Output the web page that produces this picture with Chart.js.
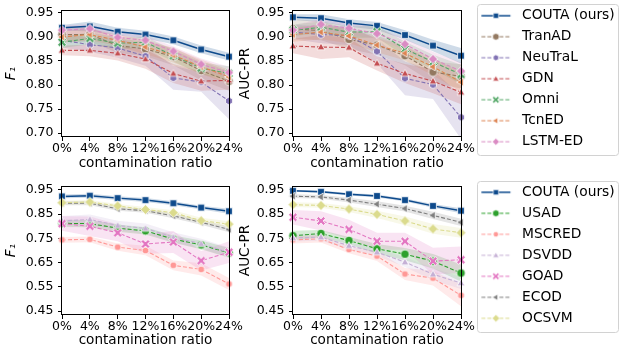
<!DOCTYPE html>
<html><head><meta charset="utf-8">
<script src="https://cdn.jsdelivr.net/npm/chart.js@4.4.0/dist/chart.umd.min.js"></script>
<style>
html,body{margin:0;padding:0;background:#fff;}
#wrap{position:relative;width:621px;height:351px;overflow:hidden;background:#fff;}
canvas{position:absolute;}
</style></head><body>
<div id="wrap">
<canvas id="cTL" width="250" height="175" style="left:0;top:0"></canvas>
<canvas id="cTR" width="389" height="175" style="left:232px;top:0"></canvas>
<canvas id="cBL" width="250" height="176" style="left:0;top:175px"></canvas>
<canvas id="cBR" width="389" height="176" style="left:232px;top:175px"></canvas>
</div>
<script>
// ---------------- DATA ----------------
const xLabels = ['0%','4%','8%','12%','16%','20%','24%'];
const topMethods = ['COUTA (ours)','TranAD','NeuTraL','GDN','Omni','TcnED','LSTM-ED'];
const botMethods = ['COUTA (ours)','USAD','MSCRED','DSVDD','GOAD','ECOD','OCSVM'];
const topYTicks = [0.70,0.75,0.80,0.85,0.90,0.95];
const botYTicks = [0.45,0.55,0.65,0.75,0.85,0.95];

// top-left: F1
const f1Top_COUTA   = [0.919,0.922,0.911,0.905,0.893,0.874,0.859];
const f1Top_TranAD  = [0.905,0.905,0.882,0.875,0.859,0.830,0.808];
const f1Top_NeuTraL = [0.893,0.884,0.877,0.860,0.815,0.806,0.767];
const f1Top_GDN     = [0.872,0.872,0.866,0.854,0.824,0.808,0.810];
const f1Top_Omni    = [0.889,0.897,0.887,0.889,0.861,0.835,0.824];
const f1Top_TcnED   = [0.900,0.905,0.893,0.879,0.862,0.838,0.817];
const f1Top_LSTMED  = [0.914,0.917,0.899,0.893,0.870,0.843,0.826];
const f1TopSd_COUTA   = [0.006,0.010,0.008,0.008,0.008,0.008,0.008];
const f1TopSd_TranAD  = [0.015,0.015,0.015,0.015,0.018,0.020,0.020];
const f1TopSd_NeuTraL = [0.015,0.015,0.020,0.020,0.025,0.020,0.038];
const f1TopSd_GDN     = [0.010,0.012,0.015,0.020,0.020,0.020,0.020];
const f1TopSd_Omni    = [0.012,0.012,0.012,0.012,0.012,0.012,0.015];
const f1TopSd_TcnED   = [0.012,0.012,0.012,0.015,0.015,0.015,0.015];
const f1TopSd_LSTMED  = [0.010,0.010,0.010,0.010,0.010,0.012,0.012];

// top-right: AUC-PR
const prTop_COUTA   = [0.941,0.939,0.929,0.923,0.904,0.882,0.861];
const prTop_TranAD  = [0.917,0.913,0.895,0.883,0.861,0.827,0.818];
const prTop_NeuTraL = [0.910,0.905,0.903,0.870,0.814,0.801,0.733];
const prTop_GDN     = [0.881,0.879,0.878,0.845,0.824,0.808,0.785];
const prTop_Omni    = [0.914,0.920,0.910,0.911,0.875,0.848,0.822];
const prTop_TcnED   = [0.905,0.910,0.902,0.883,0.866,0.838,0.806];
const prTop_LSTMED  = [0.914,0.926,0.918,0.907,0.885,0.854,0.829];
const prTopSd_COUTA   = [0.006,0.008,0.008,0.008,0.010,0.012,0.016];
const prTopSd_TranAD  = [0.020,0.020,0.020,0.020,0.020,0.022,0.025];
const prTopSd_NeuTraL = [0.015,0.018,0.020,0.025,0.035,0.030,0.045];
const prTopSd_GDN     = [0.015,0.025,0.020,0.015,0.020,0.025,0.025];
const prTopSd_Omni    = [0.012,0.012,0.012,0.012,0.015,0.015,0.020];
const prTopSd_TcnED   = [0.015,0.015,0.015,0.015,0.015,0.018,0.020];
const prTopSd_LSTMED  = [0.010,0.012,0.012,0.012,0.012,0.015,0.018];

// bottom-left: F1
const f1Bot_COUTA  = [0.923,0.926,0.916,0.908,0.895,0.877,0.862];
const f1Bot_USAD   = [0.812,0.811,0.792,0.781,0.747,0.723,0.690];
const f1Bot_MSCRED = [0.744,0.746,0.714,0.700,0.639,0.622,0.562];
const f1Bot_DSVDD  = [0.822,0.828,0.803,0.791,0.755,0.728,0.692];
const f1Bot_GOAD   = [0.811,0.800,0.773,0.727,0.735,0.658,0.693];
const f1Bot_ECOD   = [0.895,0.895,0.872,0.864,0.843,0.816,0.787];
const f1Bot_OCSVM  = [0.897,0.900,0.884,0.869,0.856,0.823,0.809];
const f1BotSd_COUTA  = [0.008,0.008,0.008,0.008,0.008,0.008,0.010];
const f1BotSd_USAD   = [0.015,0.015,0.015,0.015,0.015,0.018,0.020];
const f1BotSd_MSCRED = [0.012,0.012,0.015,0.020,0.020,0.025,0.025];
const f1BotSd_DSVDD  = [0.020,0.020,0.020,0.020,0.020,0.020,0.020];
const f1BotSd_GOAD   = [0.030,0.040,0.035,0.040,0.045,0.040,0.045];
const f1BotSd_ECOD   = [0.008,0.008,0.008,0.008,0.010,0.010,0.012];
const f1BotSd_OCSVM  = [0.008,0.008,0.008,0.010,0.010,0.012,0.012];

// bottom-right: AUC-PR
const prBot_COUTA  = [0.946,0.942,0.932,0.925,0.908,0.884,0.864];
const prBot_USAD   = [0.761,0.770,0.741,0.707,0.685,0.656,0.607];
const prBot_MSCRED = [0.744,0.748,0.704,0.677,0.603,0.586,0.515];
const prBot_DSVDD  = [0.752,0.755,0.720,0.693,0.652,0.602,0.566];
const prBot_GOAD   = [0.837,0.822,0.787,0.738,0.738,0.656,0.662];
const prBot_ECOD   = [0.924,0.921,0.908,0.891,0.873,0.845,0.816];
const prBot_OCSVM  = [0.889,0.886,0.871,0.849,0.822,0.789,0.773];
const prBotSd_COUTA  = [0.004,0.005,0.005,0.006,0.006,0.008,0.010];
const prBotSd_USAD   = [0.020,0.015,0.015,0.020,0.025,0.030,0.035];
const prBotSd_MSCRED = [0.015,0.015,0.015,0.020,0.025,0.030,0.045];
const prBotSd_DSVDD  = [0.015,0.015,0.015,0.015,0.020,0.025,0.025];
const prBotSd_GOAD   = [0.030,0.040,0.040,0.035,0.035,0.055,0.055];
const prBotSd_ECOD   = [0.008,0.008,0.010,0.012,0.012,0.015,0.015];
const prBotSd_OCSVM  = [0.010,0.010,0.012,0.015,0.018,0.020,0.020];

// ---------------- STYLE ----------------
const FONT = "'DejaVu Sans', sans-serif";
const DASH = [4,2];
const STY = {
  'COUTA (ours)': {color:'#0d4a8c', marker:'square', dash:[], lw:1.5, size:7.5},
  'TranAD':  {color:'#937860', marker:'circle', dash:DASH, lw:1.1, size:8.5},
  'NeuTraL': {color:'#8172b3', marker:'hex', dash:DASH, lw:1.1, size:7.5},
  'GDN':     {color:'#c44e52', marker:'triUp', dash:DASH, lw:1.1, size:7.5},
  'Omni':    {color:'#55a868', marker:'x', dash:DASH, lw:1.1, size:8},
  'TcnED':   {color:'#dd8452', marker:'triLeft', dash:DASH, lw:1.1, size:7.5},
  'LSTM-ED': {color:'#da8bc3', marker:'diamond', dash:DASH, lw:1.1, size:8},
  'USAD':    {color:'#2ca02c', marker:'circle', dash:DASH, lw:1.1, size:8.5},
  'MSCRED':  {color:'#ff9896', marker:'oct', dash:DASH, lw:1.1, size:7},
  'DSVDD':   {color:'#c5b0d5', marker:'triUp', dash:DASH, lw:1.1, size:7.5},
  'GOAD':    {color:'#e377c2', marker:'x', dash:DASH, lw:1.1, size:8},
  'ECOD':    {color:'#7f7f7f', marker:'triLeft', dash:DASH, lw:1.1, size:7.5},
  'OCSVM':   {color:'#dbdb8d', marker:'diamond', dash:DASH, lw:1.1, size:8.5}
};

function rgba(hex,a){const n=parseInt(hex.slice(1),16);return `rgba(${n>>16&255},${n>>8&255},${n&255},${a})`;}
function poly(ctx,n,R,start){for(let i=0;i<n;i++){const a=start+i*2*Math.PI/n;const x=R*Math.cos(a),y=R*Math.sin(a);i?ctx.lineTo(x,y):ctx.moveTo(x,y);}ctx.closePath();}
function markerPath(ctx,shape,s){
  const r=s/2; ctx.beginPath();
  if(shape==='square'){ctx.rect(-r*0.9,-r*0.9,r*1.8,r*1.8);}
  else if(shape==='circle'){ctx.arc(0,0,r,0,Math.PI*2);}
  else if(shape==='triUp'){ctx.save();ctx.translate(0,r*0.15);poly(ctx,3,r*1.2,-Math.PI/2);ctx.restore();}
  else if(shape==='triLeft'){poly(ctx,3,r*1.2,Math.PI);}
  else if(shape==='diamond'){poly(ctx,4,r*1.15,-Math.PI/2);}
  else if(shape==='hex'){poly(ctx,6,r*1.05,-Math.PI/2);}
  else if(shape==='oct'){poly(ctx,8,r*1.02,Math.PI/8);}
  else if(shape==='x'){
    const a=r*0.36,b=r*1.22;
    const pts=[[a,a],[a,b],[-a,b],[-a,a],[-b,a],[-b,-a],[-a,-a],[-a,-b],[a,-b],[a,-a],[b,-a],[b,a]];
    pts.forEach((p,i)=>{const x=(p[0]-p[1])/Math.SQRT2,y=(p[0]+p[1])/Math.SQRT2;i?ctx.lineTo(x,y):ctx.moveTo(x,y);});
    ctx.closePath();
  }
}
function makeMarker(st,scale){
  const s=st.size*scale; const n=Math.ceil(s*1.5)+2;
  const cv=document.createElement('canvas'); cv.width=n; cv.height=n;
  const ctx=cv.getContext('2d'); ctx.translate(n/2,n/2);
  markerPath(ctx,st.marker,s); ctx.fillStyle=st.color; ctx.fill();
  ctx.lineWidth=0.8; ctx.strokeStyle='#fff'; ctx.stroke();
  return cv;
}
function makeLegendImg(st){
  const w=47,h=14; const cv=document.createElement('canvas'); cv.width=w; cv.height=h;
  const ctx=cv.getContext('2d');
  ctx.strokeStyle=st.color; ctx.lineWidth=st.lw; ctx.setLineDash(st.dash);
  ctx.beginPath(); ctx.moveTo(13.2,7); ctx.lineTo(42.2,7); ctx.stroke(); ctx.setLineDash([]);
  ctx.translate(27.7,7); markerPath(ctx,st.marker,st.size*0.78);
  ctx.fillStyle=st.color; ctx.fill(); ctx.lineWidth=0.7; ctx.strokeStyle='#fff'; ctx.stroke();
  return cv;
}

function buildDatasets(series){
  const ds=[];
  series.forEach((s,k)=>{
    const st=STY[s.name];
    ds.push({label:s.name,data:s.vals,borderColor:st.color,backgroundColor:st.color,borderWidth:st.lw,
      borderDash:st.dash,pointStyle:makeMarker(st,1),pointRadius:4,tension:0,clip:false,fill:false,
      order:50-k,isMain:true,legendImg:makeLegendImg(st)});
  });
  series.forEach((s,k)=>{
    const st=STY[s.name];
    ds.push({label:s.name+' lower',data:s.vals.map((v,i)=>v-s.sd[i]),borderWidth:0,pointRadius:0,fill:false,order:200-k,isMain:false});
    ds.push({label:s.name+' upper',data:s.vals.map((v,i)=>v+s.sd[i]),borderWidth:0,pointRadius:0,fill:'-1',
      backgroundColor:rgba(st.color,0.2),order:200-k,isMain:false});
  });
  return ds;
}

const framePlugin={id:'frame',afterDatasetsDraw(chart){
  const {left,top,right,bottom}=chart.chartArea; const c=chart.ctx;
  c.save(); c.strokeStyle='#000'; c.lineWidth=1;
  c.strokeRect(Math.round(left)-0.5,Math.round(top)+0.5,Math.round(right)-Math.round(left)+1,Math.round(bottom)-Math.round(top)-1);
  c.restore();
}};
const legendBoxPlugin={id:'legendBox',afterDraw(chart,args,opts){
  if(!opts||!opts.on) return;
  const lg=chart.legend; const hb=lg&&lg.legendHitBoxes; if(!hb||!hb.length) return;
  const c=chart.ctx;
  const x0=Math.round(lg.left+opts.dx)+0.5, x1=chart.width-opts.right-0.5;
  const y0=Math.round(hb[0].top-opts.dtop)+0.5, last=hb[hb.length-1];
  const y1=Math.round(last.top+last.height+opts.dbot)+0.5;
  c.save(); c.strokeStyle='#d2d2d2'; c.lineWidth=1; c.beginPath();
  c.roundRect(x0,y0,x1-x0,y1-y0,3); c.stroke(); c.restore();
}};

function makeChart(id,series,cfg){
  const tickFont={family:FONT,size:12.5};
  const titleFont={family:FONT,size:13.6};
  const grid={display:true,drawOnChartArea:false,drawTicks:true,tickLength:4,color:'#000',tickColor:'#000',lineWidth:1};
  return new Chart(document.getElementById(id),{
    type:'line',
    data:{labels:xLabels,datasets:buildDatasets(series)},
    plugins:[framePlugin,legendBoxPlugin],
    options:{
      responsive:false,animation:false,devicePixelRatio:1,events:[],
      layout:{padding:cfg.pad},
      plugins:{
        filler:{drawTime:'beforeDatasetsDraw'},
        tooltip:{enabled:false},
        legend:{display:!!cfg.legend,position:'right',align:'start',maxWidth:cfg.legendW,
          labels:{usePointStyle:true,pointStyleWidth:47,padding:7.2,color:'#000',font:{family:FONT,size:13.8},
            generateLabels(chart){
              return chart.data.datasets.map((d,i)=>({d,i})).filter(o=>o.d.isMain).map(o=>({
                text:o.d.label,pointStyle:o.d.legendImg,datasetIndex:o.i,hidden:false,
                fillStyle:'rgba(0,0,0,0)',strokeStyle:'rgba(0,0,0,0)',lineWidth:0,fontColor:'#000'}));
            }}},
        legendBox:cfg.legend?{on:true,dx:15.7,right:2,dtop:4.8,dbot:6.4}:{on:false}
      },
      scales:{
        x:{type:'category',labels:xLabels,offset:false,grid:grid,border:{display:false},
          ticks:{autoSkip:false,maxRotation:0,minRotation:0,padding:cfg.xtp,color:'#000',font:tickFont},
          title:{display:true,text:'contamination ratio',color:'#000',font:titleFont,padding:{top:0,bottom:cfg.xtitlePad}},
          afterFit(s){s.height=cfg.xh;s.paddingLeft=0;s.paddingRight=0;}},
        y:{type:'linear',min:cfg.ymin,max:cfg.ymax,grid:grid,border:{display:false},
          afterBuildTicks(s){s.ticks=cfg.yticks.map(v=>({value:v}));},
          ticks:{color:'#000',font:tickFont,padding:4.5,callback:v=>Number(v).toFixed(2)},
          title:{display:true,text:cfg.ytitle,color:'#000',font:Object.assign({},titleFont,cfg.ytitleStyle||{}),padding:{top:cfg.ytitlePad,bottom:0}},
          afterFit(s){s.width=cfg.yw;s.paddingTop=cfg.ypt;s.paddingBottom=0;}}
      }
    }
  });
}

function seriesOf(names,vals,sds){return names.map((n,i)=>({name:n,vals:vals[i],sd:sds[i]}));}

makeChart('cTL',seriesOf(topMethods,
  [f1Top_COUTA,f1Top_TranAD,f1Top_NeuTraL,f1Top_GDN,f1Top_Omni,f1Top_TcnED,f1Top_LSTMED],
  [f1TopSd_COUTA,f1TopSd_TranAD,f1TopSd_NeuTraL,f1TopSd_GDN,f1TopSd_Omni,f1TopSd_TcnED,f1TopSd_LSTMED]),
  {pad:{top:10,left:0,right:21,bottom:0},yw:62,ypt:0,xh:38,xtp:0,xtitlePad:3.5,ymin:0.692,ymax:0.956,yticks:topYTicks,
   ytitle:'F₁',ytitleStyle:{style:'italic'},ytitlePad:3});
makeChart('cTR',seriesOf(topMethods,
  [prTop_COUTA,prTop_TranAD,prTop_NeuTraL,prTop_GDN,prTop_Omni,prTop_TcnED,prTop_LSTMED],
  [prTopSd_COUTA,prTopSd_TranAD,prTopSd_NeuTraL,prTopSd_GDN,prTopSd_Omni,prTopSd_TcnED,prTopSd_LSTMED]),
  {pad:{top:1.6,left:0,right:0,bottom:0},yw:61,ypt:10,xh:38,xtp:0,xtitlePad:3.5,ymin:0.692,ymax:0.956,yticks:topYTicks,
   ytitle:'AUC-PR',ytitlePad:5,legend:true,legendW:160});
makeChart('cBL',seriesOf(botMethods,
  [f1Bot_COUTA,f1Bot_USAD,f1Bot_MSCRED,f1Bot_DSVDD,f1Bot_GOAD,f1Bot_ECOD,f1Bot_OCSVM],
  [f1BotSd_COUTA,f1BotSd_USAD,f1BotSd_MSCRED,f1BotSd_DSVDD,f1BotSd_GOAD,f1BotSd_ECOD,f1BotSd_OCSVM]),
  {pad:{top:11,left:0,right:21,bottom:0},yw:62,ypt:0,xh:36,xtp:0,xtitlePad:2.8,ymin:0.434,ymax:0.966,yticks:botYTicks,
   ytitle:'F₁',ytitleStyle:{style:'italic'},ytitlePad:3});
makeChart('cBR',seriesOf(botMethods,
  [prBot_COUTA,prBot_USAD,prBot_MSCRED,prBot_DSVDD,prBot_GOAD,prBot_ECOD,prBot_OCSVM],
  [prBotSd_COUTA,prBotSd_USAD,prBotSd_MSCRED,prBotSd_DSVDD,prBotSd_GOAD,prBotSd_ECOD,prBotSd_OCSVM]),
  {pad:{top:3.2,left:0,right:0,bottom:0},yw:61,ypt:11,xh:36,xtp:0,xtitlePad:2.8,ymin:0.434,ymax:0.966,yticks:botYTicks,
   ytitle:'AUC-PR',ytitlePad:5,legend:true,legendW:160});
</script>
</body></html>
